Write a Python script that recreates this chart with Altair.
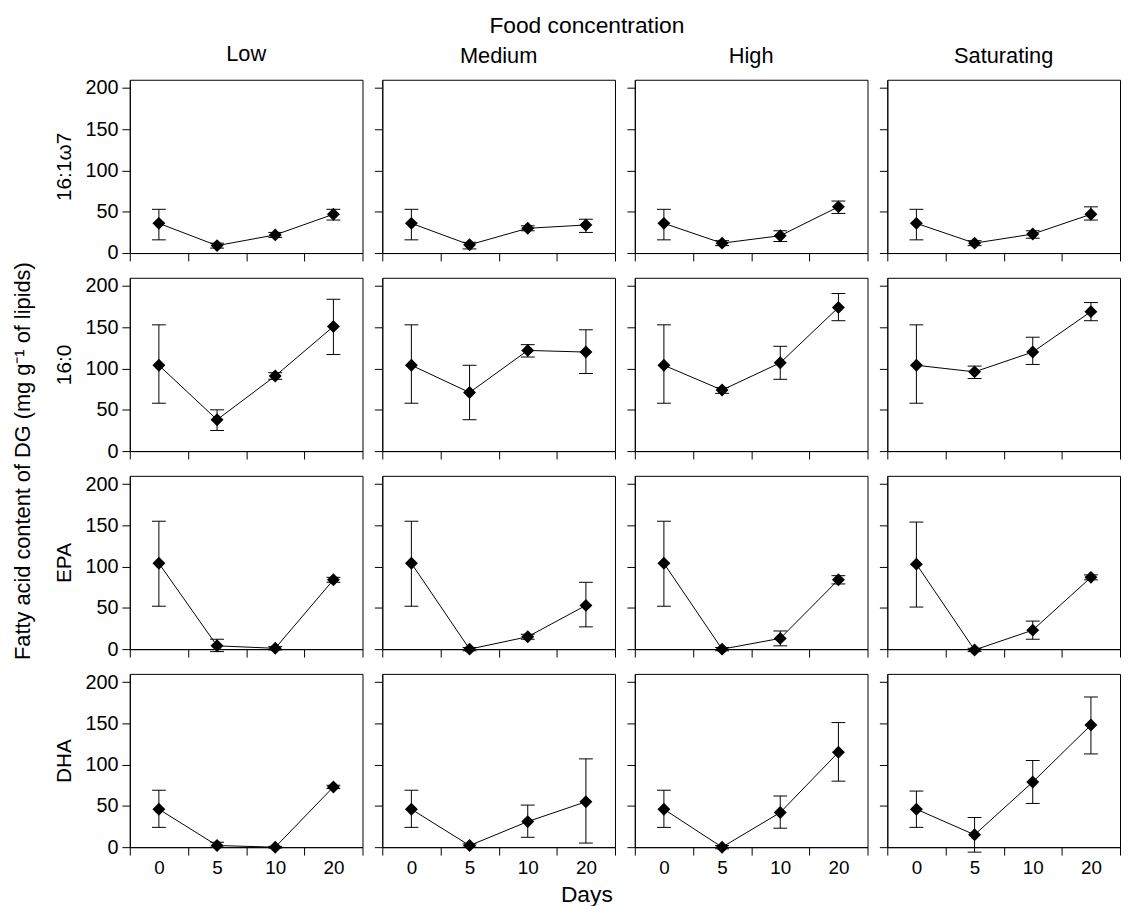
import altair as alt
import pandas as pd

days = ["0", "5", "10", "20"]
foods = ["Low", "Medium", "High", "Saturating"]
acids = ["16:1ω7", "16:0", "EPA", "DHA"]

# mean values, per food level (Low, Medium, High, Saturating), per day (0, 5, 10, 20)
mean_16_1w7 = [[36, 9, 22, 47], [36, 10, 30, 34], [36, 12, 21, 56], [36, 12, 23, 47]]
lo_16_1w7 = [[16, 6, 19, 40], [16, 5, 27, 25], [16, 9, 14, 48], [16, 9, 18, 40]]
hi_16_1w7 = [[53, 12, 25, 53], [53, 13, 33, 41], [53, 15, 27, 63], [53, 15, 27, 56]]

mean_16_0 = [[104, 38, 91, 151], [104, 71, 122, 120], [104, 74, 107, 174], [104, 96, 120, 169]]
lo_16_0 = [[58, 25, 87, 117], [58, 38, 114, 94], [58, 70, 87, 158], [58, 88, 105, 158]]
hi_16_0 = [[153, 50, 95, 184], [153, 104, 129, 147], [153, 77, 127, 191], [153, 103, 138, 180]]

mean_epa = [[104, 4, 1, 84], [104, 0, 15, 53], [104, 0, 13, 84], [103, -1, 23, 87]]
lo_epa = [[52, -3, -1, 81], [52, -2, 12, 27], [52, -2, 4, 79], [51, -3, 12, 84]]
hi_epa = [[155, 12, 3, 87], [155, 2, 18, 81], [155, 2, 22, 89], [154, 1, 34, 90]]

mean_dha = [[46, 2, 0, 73], [46, 2, 31, 55], [46, 0, 42, 115], [46, 15, 79, 148]]
lo_dha = [[24, 0, -1, 71], [24, 0, 12, 5], [24, -2, 23, 80], [24, -6, 53, 113]]
hi_dha = [[69, 6, 1, 75], [69, 4, 51, 107], [69, 2, 62, 151], [68, 36, 105, 182]]

series = {
    "16:1ω7": (mean_16_1w7, lo_16_1w7, hi_16_1w7),
    "16:0": (mean_16_0, lo_16_0, hi_16_0),
    "EPA": (mean_epa, lo_epa, hi_epa),
    "DHA": (mean_dha, lo_dha, hi_dha),
}

rows_data = []
for acid in acids:
    m, lo, hi = series[acid]
    for fi, food in enumerate(foods):
        for di, day in enumerate(days):
            rows_data.append({"acid": acid, "food": food, "day": day,
                              "mean": m[fi][di], "lo": lo[fi][di], "hi": hi[fi][di]})
df = pd.DataFrame(rows_data)

FONT = "Liberation Sans"
W, H = 235, 175
yscale = alt.Scale(domain=[0, 210], nice=False, zero=False)
xscale = alt.Scale(type="band", paddingInner=0, paddingOuter=0)


def cell(acid, food, r, c):
    d = df[(df.acid == acid) & (df.food == food)]
    xaxis = alt.Axis(labels=(r == 3), title=None, tickBand="extent", tickSize=8,
                     labelAngle=0, labelFontSize=19, labelPadding=4, grid=False,
                     domainColor="black", tickColor="black", labelColor="black")
    yaxis = alt.Axis(values=[0, 50, 100, 150, 200], labels=(c == 0), tickSize=8,
                     title=(acid if c == 0 else None), grid=False,
                     labelFontSize=20, labelPadding=4, titleFontSize=21,
                     titleFontWeight="normal", titlePadding=11,
                     domainColor="black", tickColor="black", labelColor="black",
                     titleColor="black")
    X = alt.X("day:N", sort=days, scale=xscale, axis=xaxis)
    base = alt.Chart(d)
    line = base.mark_line(color="black", strokeWidth=1).encode(
        x=X, y=alt.Y("mean:Q", scale=yscale, axis=yaxis))
    rule = base.mark_rule(color="black", strokeWidth=1).encode(
        x=X, y=alt.Y("lo:Q", scale=yscale, axis=yaxis), y2="hi:Q")
    cap_lo = base.mark_tick(color="black", size=14, thickness=1, opacity=1).encode(
        x=X, y=alt.Y("lo:Q", scale=yscale, axis=yaxis))
    cap_hi = base.mark_tick(color="black", size=14, thickness=1, opacity=1).encode(
        x=X, y=alt.Y("hi:Q", scale=yscale, axis=yaxis))
    pts = base.mark_point(shape="diamond", filled=True, size=170, color="black",
                          opacity=1).encode(
        x=X, y=alt.Y("mean:Q", scale=yscale, axis=yaxis))
    ch = alt.layer(line, rule, cap_lo, cap_hi, pts).properties(width=W, height=H)
    if r == 0:
        ch = ch.properties(title=alt.TitleParams(food, fontSize=22, fontWeight="normal",
                                                 font=FONT, color="black", offset=12))
    return ch


grid_rows = []
for r, acid in enumerate(acids):
    grid_rows.append(alt.hconcat(*[cell(acid, food, r, c) for c, food in enumerate(foods)],
                                 spacing=10))
grid = alt.vconcat(*grid_rows, spacing=11)

with_days = alt.vconcat(grid, title=alt.TitleParams(
    "Days", orient="bottom", anchor="middle", fontSize=23, fontWeight="normal",
    font=FONT, color="black", offset=6))
with_food = alt.vconcat(with_days, title=alt.TitleParams(
    "Food concentration", orient="top", anchor="middle", fontSize=23, fontWeight="normal",
    font=FONT, color="black", offset=5))
chart = alt.vconcat(with_food, title=alt.TitleParams(
    "Fatty acid content of DG (mg g⁻¹ of lipids)", orient="left", anchor="middle",
    fontSize=22, fontWeight="normal", font=FONT, color="black", offset=18)
).properties(
    padding={"left": 4, "top": 2, "right": 0, "bottom": 0}
).configure(font=FONT).configure_view(stroke="black", strokeWidth=1)

chart.save("out.html", embed_options={"renderer": "svg", "actions": False})
